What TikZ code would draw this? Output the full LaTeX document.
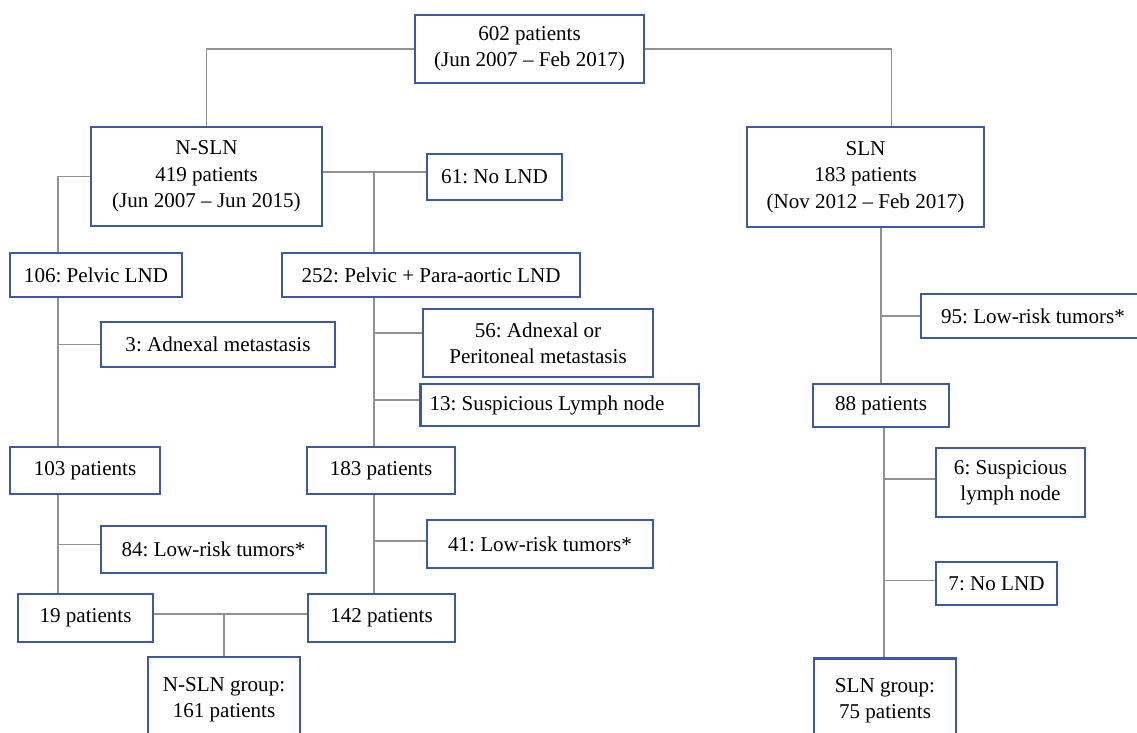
\documentclass[tikz,border=0pt]{standalone}
\usepackage{fontspec}
\setmainfont{Liberation Serif}
\usetikzlibrary{calc}
\definecolor{boxblue}{RGB}{60,88,168}
\definecolor{linkgray}{RGB}{145,145,145}
\tikzset{
	box/.style={draw=boxblue, line width=1.6pt, inner sep=0pt, align=center, font=\fontsize{12}{15}\selectfont\frenchspacing},
	boxdim/.style 2 args={minimum width=#1*0.02cm, minimum height=#2*0.02cm},
	link/.style={draw=linkgray, line width=0.7pt}
}

\begin{document}
\begin{tikzpicture}[x=0.02cm, y=-0.02cm]
		%%%%% START %%%%%
		\useasboundingbox (0, 0) rectangle (1137, 733);
		\clip (0, 0) rectangle (1137, 733);
		
		\node[box, boxdim={229}{68}] (top) at (529.5, 49) {602 patients\\(Jun 2007 – Feb 2017)};
		
		\node[box, boxdim={231}{99}] (nsln) at (206.5, 176.5) {N-SLN\\419 patients\\(Jun 2007 – Jun 2015)};
		\node[box, boxdim={135}{46}] (nolnd) at (494.5, 177) {61: No LND};
		\node[box, boxdim={172}{44}] (pelvic) at (96, 275) {106: Pelvic LND};
		\node[box, boxdim={298}{44}] (para) at (431, 275) {252: Pelvic + Para-aortic LND};
		
		\node[box, boxdim={234}{45}] (adn3) at (218, 344.5) {3: Adnexal metastasis};
		\node[box, boxdim={230}{68}] (adn56) at (538, 343) {56: Adnexal or\\Peritoneal metastasis};
		\node[box, text width=5.21cm, inner xsep=0.18cm, align=flush left, minimum height=42*0.02cm] (susp13) at (559.75, 405) {13: Suspicious Lymph node};
		
		\node[box, boxdim={150}{47}] (p103) at (85, 470.5) {103 patients};
		\node[box, boxdim={148}{47}] (p183) at (381, 470.5) {183 patients};
		\node[box, boxdim={225}{47}] (low84) at (213.5, 549.5) {84: Low-risk tumors*};
		\node[box, boxdim={226}{48}] (low41) at (540, 544) {41: Low-risk tumors*};
		\node[box, boxdim={135}{48}] (p19) at (85.5, 618) {19 patients};
		\node[box, boxdim={147}{48}] (p142) at (381.5, 618) {142 patients};
		\node[box, boxdim={152}{85}] (nslngrp) at (224, 699.5) {N-SLN group:\\161 patients};
		
		\node[box, boxdim={237}{100}] (sln) at (865.5, 177) {SLN\\183 patients\\(Nov 2012 – Feb 2017)};
		\node[box, boxdim={224}{44}] (low95) at (1033, 316) {95: Low-risk tumors*};
		\node[box, boxdim={136}{43}] (p88) at (881, 405.5) {88 patients};
		\node[box, boxdim={149}{69}] (susp6) at (1010.5, 482.5) {6: Suspicious\\lymph node};
		\node[box, boxdim={121}{43}] (nolnd7) at (996.5, 583.5) {7: No LND};
		\node[box, boxdim={142}{85}] (slngrp) at (885, 701) {SLN group:\\75 patients};
		
		% spines
		\coordinate (lspine) at (58, 0);
		\coordinate (mspine) at (374, 0);
		\coordinate (rspine) at (881, 0);
		\coordinate (rspineb) at (884, 0);
		
		\draw[link] (top.west) -| (nsln.north);
		\draw[link] (top.east) -| ($(sln.north)+(26, 0)$);
		
		\draw[link] (nsln.west) -| (pelvic.north -| lspine);
		\coordinate (b61) at ([yshift=0.09cm]nsln.east);
		\draw[link] (b61) -- (b61 -| nolnd.west);
		\draw[link] (b61 -| mspine) -- (para.north -| mspine);
		
		\draw[link] (pelvic.south -| lspine) -- (p103.north -| lspine);
		\draw[link] (adn3.west) -- (adn3.west -| lspine);
		\draw[link] (p103.south -| lspine) -- (p19.north -| lspine);
		\coordinate (b84) at ([yshift=0.1cm]low84.west);
		\draw[link] (b84) -- (b84 -| lspine);
		
		\draw[link] (para.south -| mspine) -- (p183.north -| mspine);
		\coordinate (b56) at ([yshift=0.2cm]adn56.west);
		\draw[link] (b56) -- (b56 -| mspine);
		\coordinate (b13) at ([yshift=0.1cm]susp13.west);
		\draw[link] (b13) -- (b13 -| mspine);
		\draw[link] (p183.south -| mspine) -- (p142.north -| mspine);
		\coordinate (b41) at ([yshift=0.06cm]low41.west);
		\draw[link] (b41) -- (b41 -| mspine);
		
		\coordinate (b19) at ([yshift=0.08cm]p19.east);
		\draw[link] (b19) -- (b19 -| p142.west);
		\draw[link] (nslngrp.north) -- (nslngrp.north |- b19);
		
		\draw[link] (sln.south -| rspine) -- (p88.north -| rspine);
		\draw[link] (low95.west) -- (low95.west -| rspine);
		\draw[link] (p88.south -| rspineb) -- (slngrp.north -| rspineb);
		\coordinate (b6) at ([yshift=0.07cm]susp6.west);
		\draw[link] (b6) -- (b6 -| rspineb);
		\coordinate (b7) at ([yshift=0.06cm]nolnd7.west);
		\draw[link] (b7) -- (b7 -| rspineb);
		
		%%%%% END %%%%%
\end{tikzpicture}
\end{document}
